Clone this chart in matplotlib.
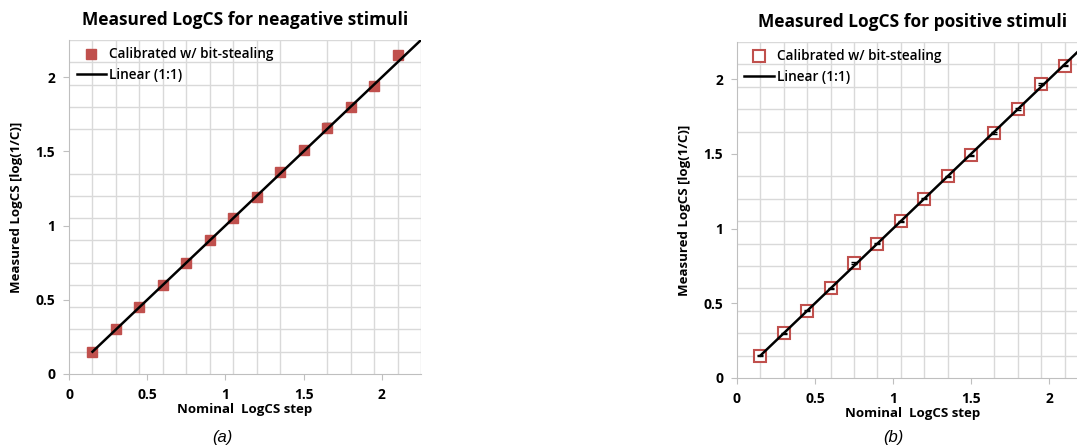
import numpy as np
import matplotlib.pyplot as plt
from matplotlib.ticker import MultipleLocator

# Nominal LogCS steps (x) and measured values (y)
nominal = [0.15, 0.30, 0.45, 0.60, 0.75, 0.90, 1.05, 1.20, 1.35, 1.50, 1.65, 1.80, 1.95, 2.10]
neg_measured = [0.15, 0.30, 0.45, 0.60, 0.75, 0.90, 1.05, 1.19, 1.36, 1.51, 1.66, 1.80, 1.94, 2.15]
neg_err = [0.004, 0.004, 0.004, 0.004, 0.004, 0.02, 0.004, 0.004, 0.004, 0.004, 0.03, 0.004, 0.004, 0.004]
pos_measured = [0.15, 0.30, 0.45, 0.60, 0.77, 0.90, 1.05, 1.20, 1.35, 1.49, 1.64, 1.80, 1.97, 2.09]
pos_err = [0.004, 0.004, 0.004, 0.004, 0.006, 0.004, 0.004, 0.004, 0.004, 0.004, 0.004, 0.006, 0.008, 0.004]
line_x = [0.15, 2.4]

plt.rcParams['font.family'] = ['Open Sans', 'DejaVu Sans']
red = '#c0504d'

fig = plt.figure(figsize=(10.77, 4.48), dpi=100)
ax1 = fig.add_axes([0.0641, 0.1652, 0.3268, 0.7455])
ax2 = fig.add_axes([0.6843, 0.1563, 0.3259, 0.75])


def style(ax, title):
    ax.set_xlim(0, 2.25)
    ax.set_ylim(0, 2.25)
    ax.xaxis.set_major_locator(MultipleLocator(0.5))
    ax.yaxis.set_major_locator(MultipleLocator(0.5))
    ax.xaxis.set_minor_locator(MultipleLocator(0.15))
    ax.yaxis.set_minor_locator(MultipleLocator(0.15))
    ax.grid(which='minor', color='#d9d9d9', lw=1)
    ax.tick_params(which='minor', length=0)
    ax.tick_params(which='major', length=4, color='#bfbfbf', labelsize=10, pad=6)
    ax.xaxis.set_major_formatter(plt.FuncFormatter(lambda v, p: '{:g}'.format(v)))
    ax.yaxis.set_major_formatter(plt.FuncFormatter(lambda v, p: '{:g}'.format(v)))
    for lbl in ax.get_xticklabels() + ax.get_yticklabels():
        lbl.set_fontweight('bold')
    for s in ['top', 'right']:
        ax.spines[s].set_visible(False)
    for s in ['left', 'bottom']:
        ax.spines[s].set_color('#bfbfbf')
    ax.set_title(title, fontsize=12.5, fontweight='bold', pad=11)
    ax.set_xlabel('Nominal  LogCS step', fontsize=9.5, fontweight='bold', labelpad=1)
    ax.set_ylabel('Measured LogCS [log(1/C)]', fontsize=9.5, fontweight='bold', labelpad=9)


# (a) negative stimuli
ax1.errorbar(nominal, neg_measured, yerr=neg_err, fmt='none', ecolor='black', capsize=3, elinewidth=1, zorder=3)
ax1.plot(nominal, neg_measured, 's', color=red, ms=7, label='Calibrated w/ bit-stealing', zorder=4)
ax1.plot(line_x, line_x, color='black', lw=1.8, label='Linear (1:1)', zorder=5)
style(ax1, 'Measured LogCS for neagative stimuli')

# (b) positive stimuli
ax2.plot(nominal, pos_measured, 's', mfc='white', mec=red, mew=1.5, ms=8, label='Calibrated w/ bit-stealing', zorder=3)
ax2.errorbar(nominal, pos_measured, yerr=pos_err, fmt='none', ecolor='black', capsize=2.5, elinewidth=1, zorder=4)
ax2.plot(line_x, line_x, color='black', lw=1.8, label='Linear (1:1)', zorder=5)
style(ax2, 'Measured LogCS for positive stimuli')

for ax in (ax1, ax2):
    leg = ax.legend(loc='upper left', frameon=False, fontsize=9.8, handlelength=2.2,
                    handletextpad=0.2, borderaxespad=0.15, labelspacing=0.45)
    for t in leg.get_texts():
        t.set_fontweight('semibold')

fig.text(222 / 1077, 1 - 437 / 448, '(a)', fontsize=12, style='italic', family='Liberation Sans', ha='center', va='center')
fig.text(893 / 1077, 1 - 437 / 448, '(b)', fontsize=12, style='italic', family='Liberation Sans', ha='center', va='center')

fig.savefig('out.png', dpi=100)
